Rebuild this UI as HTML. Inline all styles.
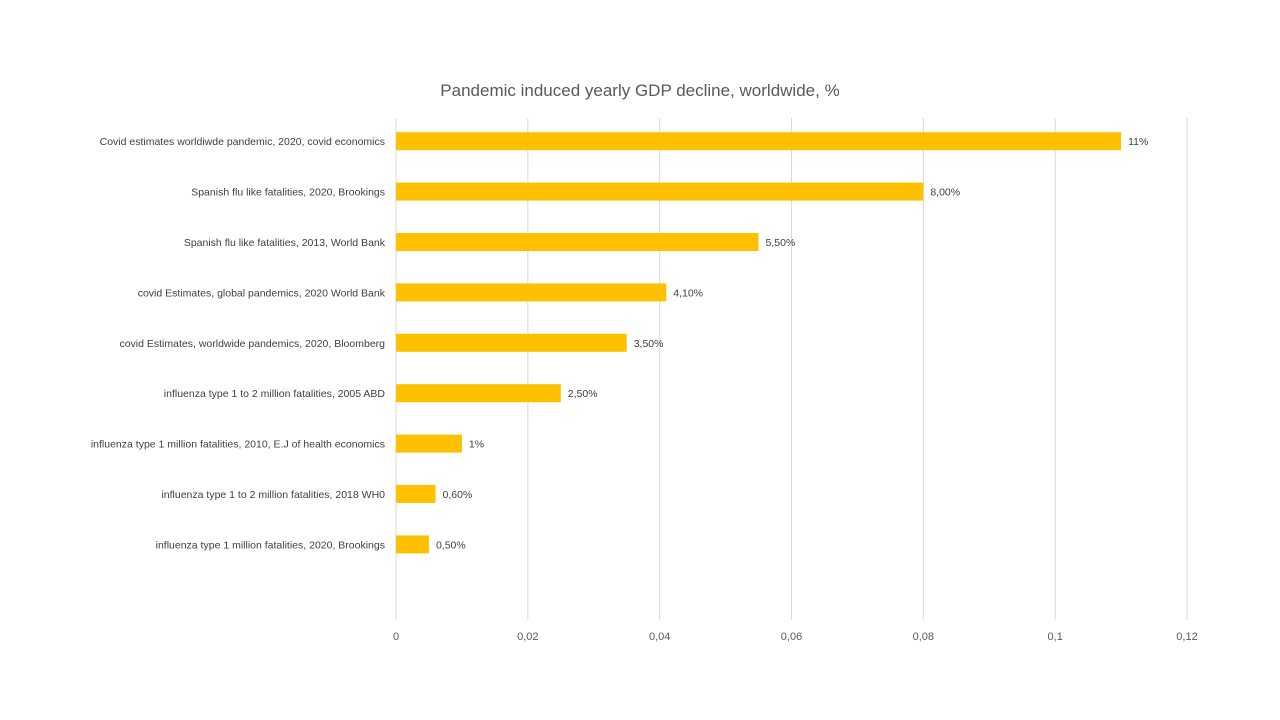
<!DOCTYPE html>
<html><head><meta charset="utf-8"><style>
html,body{margin:0;padding:0;background:#fff;}
svg{display:block;font-family:"Liberation Sans",sans-serif;}
</style></head><body>
<svg id="chart" width="1280" height="720">
<rect width="1280" height="720" fill="#fff"/>
<text x="640" y="96" text-anchor="middle" font-size="17" fill="#595959">Pandemic induced yearly GDP decline,  worldwide, %</text>
<g id="grid"></g><g id="bars"></g><g id="labels"></g>
</svg>
<script>
const categories = ["Covid estimates worldiwde pandemic, 2020, covid economics","Spanish flu like fatalities, 2020, Brookings","Spanish flu like fatalities, 2013, World Bank","covid Estimates, global pandemics, 2020 World Bank","covid Estimates, worldwide pandemics, 2020, Bloomberg","influenza type 1 to 2 million fatalities, 2005 ABD","influenza type 1 million fatalities, 2010, E.J of health economics","influenza type 1 to 2 million fatalities, 2018 WH0","influenza type 1 million fatalities, 2020, Brookings"];
const values = [0.11,0.08,0.055,0.041,0.035,0.025,0.01,0.006,0.005];
const valueLabels = ["11%","8,00%","5,50%","4,10%","3,50%","2,50%","1%","0,60%","0,50%"];
const ticks = [0,0.02,0.04,0.06,0.08,0.1,0.12];
const tickLabels = ["0","0,02","0,04","0,06","0,08","0,1","0,12"];
const NS="http://www.w3.org/2000/svg";
const x0=396,x1=1187,plotTop=116,plotBottom=620,slots=10,band=(plotBottom-plotTop)/slots,barH=18;
const xs=v=>x0+(v/0.12)*(x1-x0);
const yc=i=>plotTop+(i+0.5)*band;
function mk(tag,attrs,parent){const e=document.createElementNS(NS,tag);for(const k in attrs)e.setAttribute(k,attrs[k]);parent.appendChild(e);return e;}
const grid=document.getElementById('grid'),bars=document.getElementById('bars'),labels=document.getElementById('labels');
ticks.forEach((t,i)=>{
 const l=mk('line',{x1:xs(t),x2:xs(t),y1:118,y2:620,stroke:'#d9d9d9','stroke-width':1},grid);
 
 
 const tx=mk('text',{x:xs(t),y:640,'text-anchor':'middle','font-size':11,fill:'#595959'},labels);
 tx.textContent=tickLabels[i];
 
 
});
categories.forEach((c,i)=>{
 const y=yc(i);
 const r=mk('rect',{x:x0,y:y-barH/2,width:xs(values[i])-x0,height:barH,fill:'#FFC000'},bars);
 
 
 const ct=mk('text',{x:385,y:y+4,'text-anchor':'end','font-size':10.5,fill:'#404040'},labels);
 ct.textContent=c;
 
 
 const vt=mk('text',{x:xs(values[i])+7,y:y+4,'font-size':10.5,fill:'#404040'},labels);
 vt.textContent=valueLabels[i];
 
 
});
</script>
</body></html>
